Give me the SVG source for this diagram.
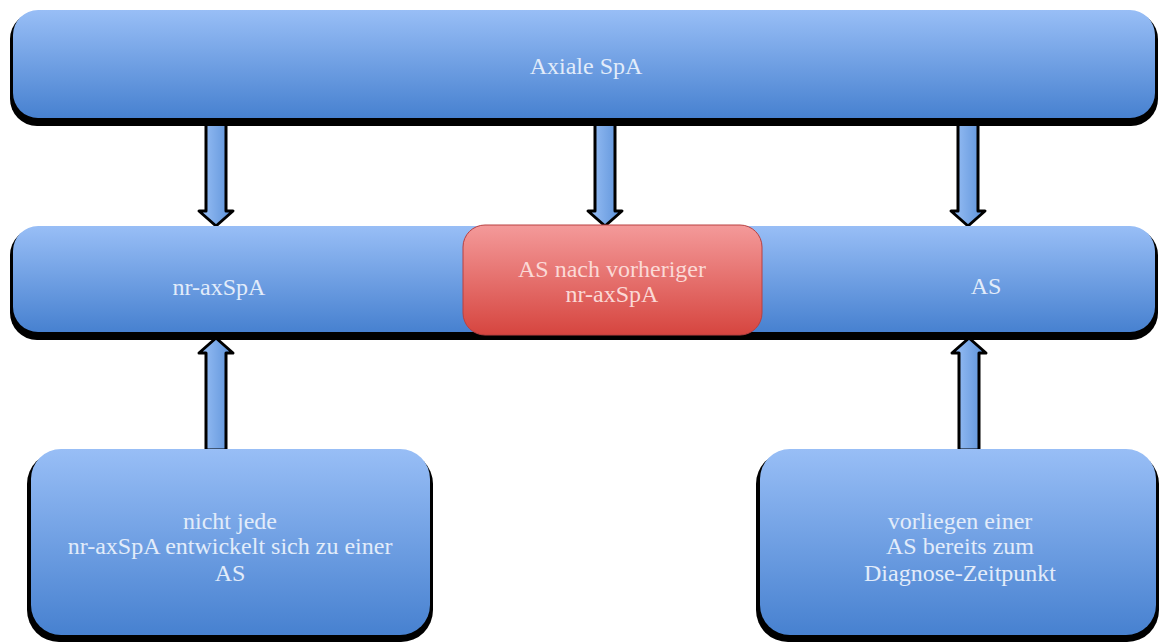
<svg xmlns="http://www.w3.org/2000/svg" width="1161" height="642" viewBox="0 0 1161 642">
<defs>
<linearGradient id="gb" x1="0" y1="0" x2="0" y2="1">
<stop offset="0" stop-color="#98bef6"/>
<stop offset="1" stop-color="#4781d0"/>
</linearGradient>
<linearGradient id="gr" x1="0" y1="0" x2="0" y2="1">
<stop offset="0" stop-color="#f49a9a"/>
<stop offset="1" stop-color="#d6453f"/>
</linearGradient>
<linearGradient id="ga" x1="0" y1="0" x2="1" y2="0">
<stop offset="0" stop-color="#9cc2f7"/>
<stop offset="1" stop-color="#5a90d8"/>
</linearGradient>
</defs>
<style>
.sh{fill:#000}
.bx{fill:url(#gb)}
.rd{fill:url(#gr);stroke:#b84040;stroke-width:1}
.t{font-family:"Liberation Serif","Times New Roman",serif;font-size:24px;fill:#e2ecfa;text-anchor:middle}
.tr{font-family:"Liberation Serif","Times New Roman",serif;font-size:24px;fill:#fbd9d6;text-anchor:middle}
.ar{fill:url(#ga);stroke:#000;stroke-width:3;stroke-linejoin:round}
</style>
<rect width="1161" height="642" fill="#fff"/>
<g id="connectors">
<path class="ar" d="M206,118 V211 H199 L216,226 L233,211 H226 V118 Z"/>
<path class="ar" d="M595,118 V211 H588 L605,226 L622,211 H615 V118 Z"/>
<path class="ar" d="M958,118 V211 H951 L968,226 L985,211 H978 V118 Z"/>
<path class="ar" d="M206,450 V353 H199 L216,338 L233,353 H226 V450 Z"/>
<path class="ar" d="M959,450 V353 H952 L969,338 L986,353 H979 V450 Z"/>
</g>
<g id="top">
<rect class="sh" x="10" y="12" width="1148" height="114" rx="27"/>
<rect class="bx" x="13" y="10" width="1142" height="108" rx="25"/>
<text class="t" x="586" y="74">Axiale SpA</text>
</g>
<g id="middle">
<rect class="sh" x="10" y="228" width="1148" height="112" rx="27"/>
<rect class="bx" x="13" y="226" width="1142" height="106" rx="25"/>
<text class="t" x="219" y="295">nr-axSpA</text>
<text class="t" x="986" y="294">AS</text>
</g>
<g id="red">
<rect class="rd" x="463" y="225" width="299" height="110" rx="22"/>
<text class="tr" x="612" y="277">AS nach vorheriger</text>
<text class="tr" x="612" y="302">nr-axSpA</text>
</g>
<g id="bottom-left">
<rect class="sh" x="27" y="452" width="406" height="190" rx="32"/>
<rect class="bx" x="31" y="449" width="399" height="186" rx="30"/>
<text class="t" x="230" y="529">nicht jede</text>
<text class="t" x="230" y="554">nr-axSpA entwickelt sich zu einer</text>
<text class="t" x="230" y="581">AS</text>
</g>
<g id="bottom-right">
<rect class="sh" x="756" y="452" width="403" height="190" rx="32"/>
<rect class="bx" x="760" y="449" width="396" height="186" rx="30"/>
<text class="t" x="960" y="529">vorliegen einer</text>
<text class="t" x="960" y="554">AS bereits zum</text>
<text class="t" x="960" y="581">Diagnose-Zeitpunkt</text>
</g>
</svg>
